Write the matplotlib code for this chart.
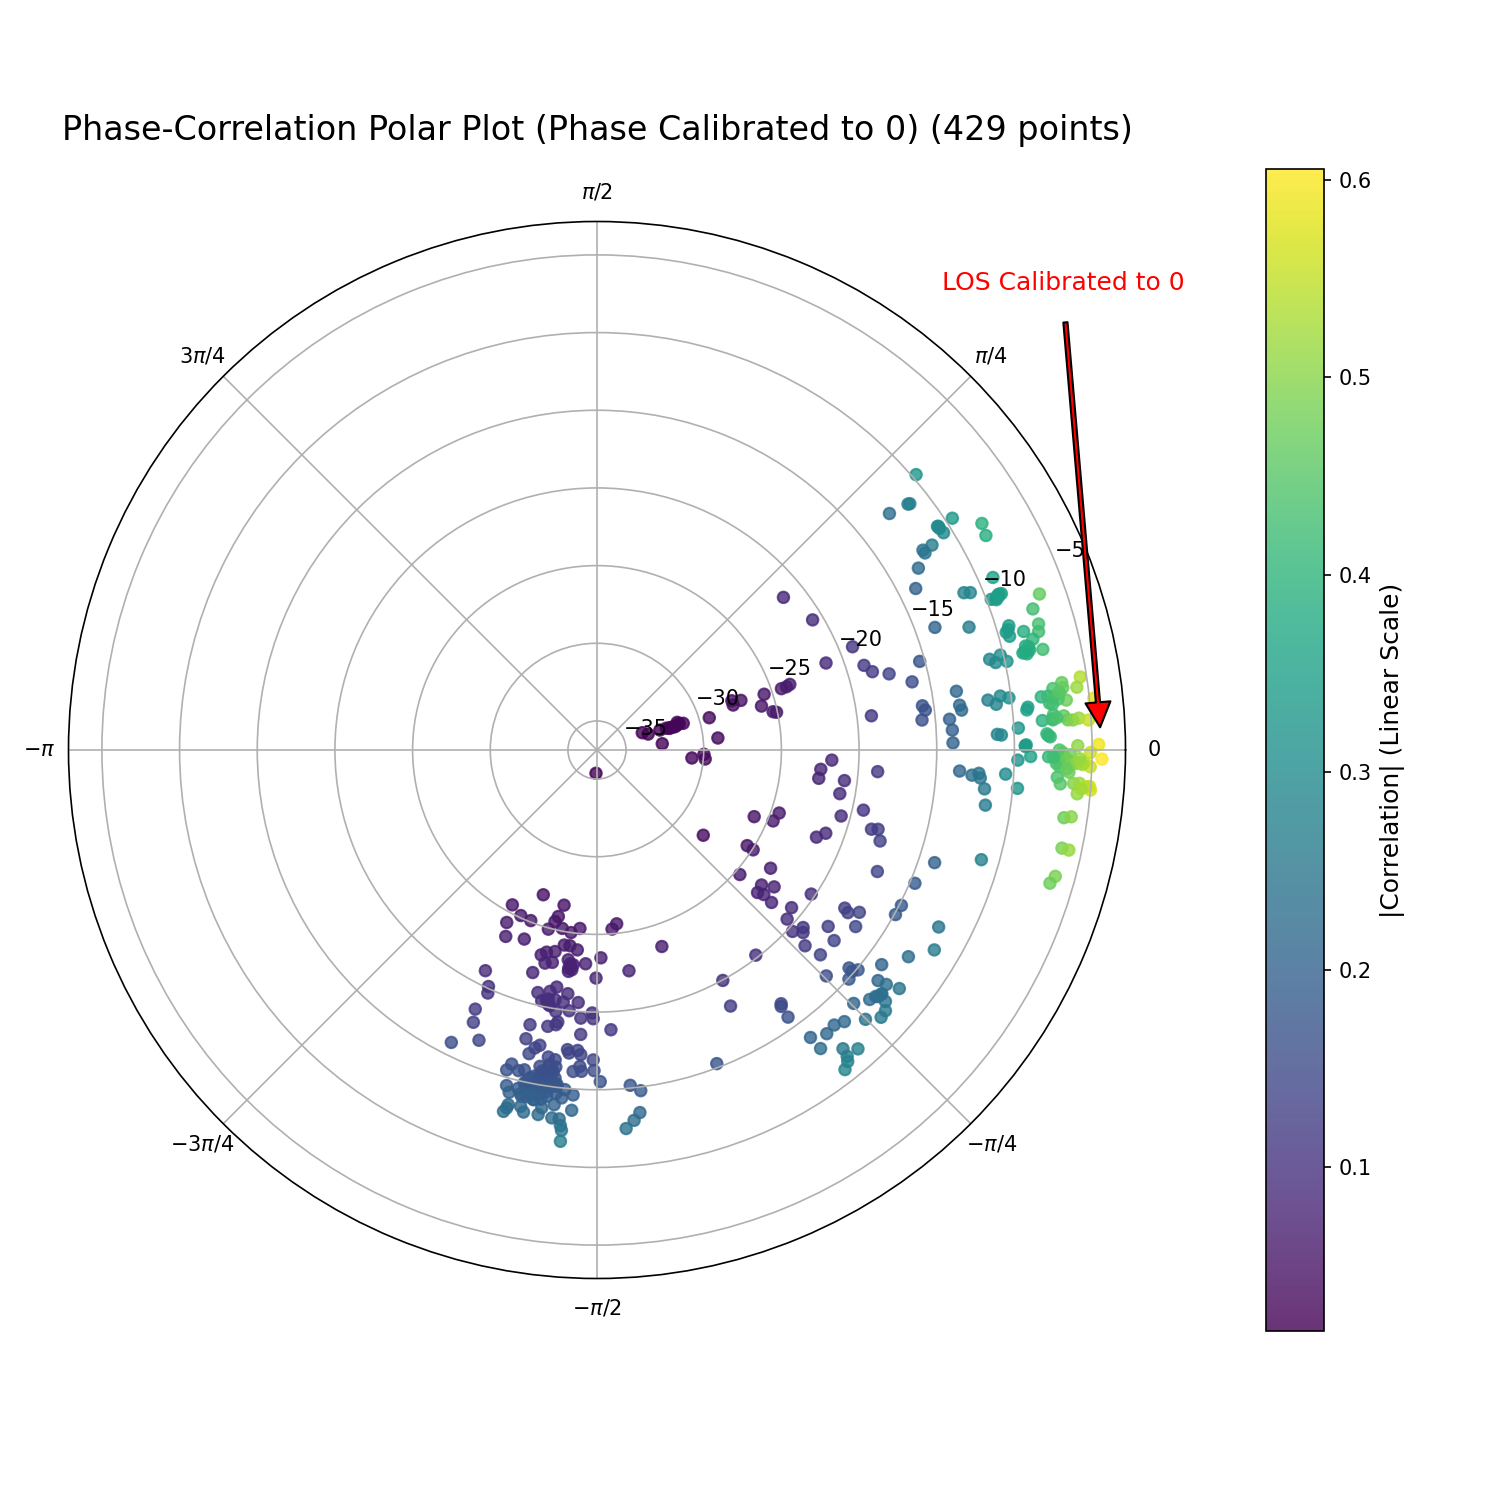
import numpy as np
import matplotlib
matplotlib.use('Agg')
import matplotlib.pyplot as plt

# phase in radians, correlation in dB
phase_bottom = [-1.926, -2.071, -1.780, -2.002, -1.941, -1.799, -1.811, -2.053, -2.026, -1.938,
                -1.836, -1.763, -1.712, -1.666, -1.458, -1.487, -1.252, -1.737, -1.708, -1.669,
                -1.776, -1.815, -1.837, -1.810, -1.778, -1.707, -1.681, -1.685, -1.699, -1.624,
                -1.552, -1.427, -1.852, -2.039, -1.575, -2.001, -1.993, -1.810, -1.739, -1.763,
                -1.690, -1.788, -1.764, -1.737, -1.704, -1.645, -1.753, -1.727, -1.677, -1.589,
                -1.585, -1.631, -2.010, -1.997, -1.810, -1.747, -1.719, -1.714, -1.521, -1.628,
                -2.033, -1.957, -1.812, -1.762, -1.776, -1.791, -1.669, -1.663, -1.635, -1.624,
                -1.728, -1.705, -1.583, -1.836, -1.749, -1.625, -1.846, -1.811, -1.794, -1.727,
                -1.706, -1.645, -1.619, -1.580, -1.744, -1.719, -1.698, -1.772, -1.752, -1.727,
                -1.561, -1.472, -1.443, -1.834, -1.786, -1.767, -1.747, -1.724, -1.690, -1.665,
                -1.822, -1.785, -1.754, -1.735, -1.715, -1.672, -1.640, -1.751, -1.691, -1.816,
                -1.782, -1.641, -1.818, -1.824, -1.771, -1.724, -1.731, -1.453, -1.471, -1.494,
                -1.693, -1.673, -1.668, -1.664, -1.664]
db_bottom = [-26.93, -25.51, -26.66, -25.14, -25.09, -25.87, -25.50, -24.34, -23.51, -23.83,
             -24.92, -25.17, -25.00, -25.33, -25.61, -25.30, -23.55, -24.14, -24.15, -23.94,
             -23.62, -23.46, -23.20, -22.75, -22.90, -23.24, -22.96, -22.63, -22.50, -23.09,
             -23.49, -22.51, -21.96, -20.95, -22.19, -20.12, -19.72, -20.80, -21.39, -21.04,
             -21.07, -20.34, -20.53, -20.57, -20.50, -20.57, -20.13, -19.83, -19.99, -19.94,
             -19.57, -19.58, -18.44, -17.62, -18.67, -18.80, -18.99, -19.18, -18.84, -18.53,
             -15.84, -16.70, -17.73, -17.51, -17.28, -16.84, -17.49, -17.28, -17.49, -17.23,
             -16.86, -16.75, -16.92, -15.92, -16.18, -16.47, -15.47, -15.62, -15.76, -16.04,
             -15.99, -16.12, -16.16, -16.23, -15.65, -15.63, -15.58, -15.33, -15.29, -15.28,
             -15.52, -15.18, -14.76, -14.50, -14.93, -14.79, -14.77, -14.86, -15.06, -14.91,
             -14.12, -14.05, -14.31, -14.38, -14.34, -14.36, -14.61, -14.00, -13.87, -13.34,
             -13.41, -13.62, -13.11, -12.84, -13.09, -13.56, -13.10, -13.37, -12.91, -12.43,
             -13.01, -13.00, -12.58, -12.28, -11.57]

phase_lower = [-0.043, -0.086, -0.127, -0.123, -0.077, -0.178, -0.264, -0.222, -0.281, -0.275,
               -0.311, -0.349, -0.378, -0.333, -0.383, -0.401, -0.676, -0.567, -0.569, -0.409,
               -0.322, -0.397, -0.598, -0.717, -0.687, -0.658, -0.726, -0.714, -0.718, -0.592,
               -0.472, -0.504, -0.568, -0.575, -0.554, -0.681, -0.727, -0.652, -0.599, -0.711,
               -0.725, -0.748, -0.677, -0.755, -0.478, -0.535, -0.586, -0.742, -0.912, -0.646,
               -0.713, -0.700, -0.715, -0.778, -0.738, -0.687, -0.681, -0.668, -1.071, -0.708,
               -0.724, -0.741, -0.717, -0.779, -1.090, -0.943, -0.948, -0.735, -0.755, -0.950,
               -0.787, -0.832, -0.859, -0.890, -0.932, -0.928, -0.882, -0.853, -0.886, -0.893,
               -0.911, -1.206]
db_lower = [-21.74, -22.41, -22.48, -20.82, -18.75, -20.99, -20.59, -19.29, -18.48, -18.07,
            -17.73, -21.20, -21.67, -24.46, -24.65, -25.88, -28.10, -25.41, -24.94, -17.20,
            -13.96, -14.68, -23.35, -24.67, -23.17, -22.46, -23.05, -22.66, -21.95, -20.25,
            -14.87, -14.93, -17.95, -17.62, -17.01, -20.75, -20.49, -18.15, -16.71, -19.36,
            -19.15, -19.70, -17.29, -18.48, -12.10, -11.63, -12.81, -17.36, -20.17, -13.92,
            -15.42, -14.90, -15.13, -16.15, -14.95, -13.47, -12.90, -12.08, -19.97, -12.73,
            -12.92, -13.08, -12.24, -13.65, -18.28, -16.69, -16.55, -11.84, -11.76, -15.73,
            -12.39, -13.22, -13.49, -13.37, -13.82, -12.86, -11.96, -11.33, -11.41, -11.13,
            -10.83, -15.26]

phase_right = [0.411, 0.339, 0.405, 0.399, 0.365, 0.363, 0.369, 0.369, 0.313, 0.319,
               0.278, 0.262, 0.293, 0.280, 0.269, 0.271, 0.249, 0.238, 0.224, 0.227,
               0.222, 0.227, 0.216, 0.231, 0.213, 0.144, 0.134, 0.150, 0.130, 0.133,
               0.122, 0.106, 0.119, 0.119, 0.103, 0.104, 0.162, 0.123, 0.109, 0.127,
               0.133, 0.114, 0.126, 0.099, 0.093, 0.087, 0.056, 0.020, 0.039, 0.037,
               0.052, 0.066, 0.077, 0.066, 0.073, 0.064, 0.063, 0.066, 0.061, 0.036,
               0.029, 0.009, 0.011, 0.012, 0.008, -0.024, -0.015, -0.015, 0.000, -0.014,
               -0.021, -0.029, -0.025, -0.026, -0.026, -0.005, -0.034, -0.018, -0.047, -0.059,
               -0.073, -0.070, -0.069, -0.074, -0.081, -0.091, -0.058, -0.067, -0.061, -0.073,
               -0.100, -0.059, -0.091, -0.141, -0.144, -0.140, -0.208, -0.209, -0.278, -0.269,
               -0.286]
db_right = [-9.07, -6.67, -11.17, -10.79, -9.70, -9.38, -8.96, -9.20, -7.38, -11.65,
            -7.31, -7.44, -9.18, -9.46, -9.32, -8.37, -7.92, -8.48, -8.75, -8.29,
            -7.45, -10.93, -10.60, -10.20, -9.87, -6.64, -7.26, -5.41, -5.72, -6.62,
            -6.87, -6.49, -8.07, -7.64, -7.58, -4.72, -13.43, -13.35, -13.26, -11.50,
            -10.68, -11.00, -10.14, -9.00, -9.08, -14.09, -13.96, -13.95, -11.08, -10.82,
            -9.71, -8.14, -7.40, -7.46, -6.74, -6.50, -6.18, -5.79, -5.17, -7.89,
            -7.68, -5.92, -4.57, -9.24, -9.28, -9.77, -8.95, -7.80, -7.10, -6.98,
            -6.77, -7.29, -6.34, -5.80, -5.47, -5.10, -5.10, -4.36, -6.46, -7.19,
            -6.97, -6.12, -5.74, -5.08, -5.00, -5.83, -13.49, -12.68, -12.24, -12.13,
            -11.80, -10.52, -9.69, -11.62, -6.50, -6.04, -6.28, -5.82, -11.14, -6.27,
            -6.48]

phase_upper = [0.712, 0.680, 0.669, 0.667, 0.578, 0.581, 0.574, 0.560, 0.532, 0.504,
               0.549, 0.550, 0.541, 0.515, 0.469, 0.348, 0.686, 0.543, 0.384, 0.363,
               0.307, 0.277, 0.255, 0.268, 0.213, 0.135, 0.121, 0.092, 0.124, 0.328,
               0.322, 0.321, 0.322, 0.332, 0.319, 0.350, 0.261, 0.207, 0.214, 0.280,
               0.099, 0.300, 0.332, 0.290, 0.297, 0.307, 0.302, 0.365, 0.096, -0.040,
               -0.084, -0.083, -1.614]
db_upper = [-9.74, -12.66, -11.35, -11.24, -9.56, -10.65, -10.61, -10.54, -8.12, -8.28,
            -11.59, -12.26, -12.24, -13.10, -13.87, -13.73, -21.36, -20.66, -19.13, -21.10,
            -18.84, -18.44, -17.44, -15.33, -16.12, -15.73, -15.58, -15.86, -19.07, -23.76,
            -24.01, -24.36, -25.53, -27.07, -27.64, -27.63, -25.91, -25.06, -25.27, -29.35,
            -29.05, -31.06, -31.41, -31.64, -31.96, -32.62, -33.42, -33.75, -32.65, -29.98,
            -30.74, -29.88, -35.37]

# points hidden inside the dense clumps, rough guesses from the overlap
phase_clumps = [0.30, 0.295, 0.31, 0.305, 0.29,
                -1.69, -1.70, -1.695, -1.77, -1.76,
                -1.72, -1.70, -1.71, -1.73, -1.70, -1.69, -1.74, -1.72, -1.71, -1.76,
                -1.74, -1.72, -1.78, -1.76, -1.73, -1.77, -1.75, -1.69, -1.74, -1.76,
                -1.78, -1.80, -1.79,
                -0.01, -0.02, -0.005, -0.03, -0.035, -0.02, -0.01, -0.03, -0.028, -0.03,
                -0.018, -0.015, -0.04, 0.11, 0.115, 0.10, 0.125, 0.068, 0.07, 0.032,
                -0.075, -0.08, 0.23, 0.225, 0.235, 0.22, 0.36, 0.37, 0.365, 0.285, 0.01,
                -0.72, -0.71, 0.58, -1.72]
db_clumps = [-31.5, -31.8, -31.3, -32.2, -32.0,
             -22.8, -22.7, -23.0, -20.4, -20.2,
             -16.4, -16.3, -15.9, -15.5, -15.3, -15.2, -15.0, -15.1, -14.9, -14.6,
             -14.5, -14.6, -14.7, -14.3, -14.1, -14.1, -14.0, -14.6, -15.9, -15.5,
             -15.1, -14.5, -14.2,
             -7.0, -7.2, -6.9, -6.9, -7.1, -6.6, -6.4, -6.3, -6.0, -5.6,
             -5.8, -7.5, -6.6, -7.0, -7.3, -7.4, -6.9, -7.5, -7.2, -7.8,
             -5.3, -5.6, -8.4, -8.6, -8.3, -8.5, -9.4, -9.1, -9.2, -9.3, -9.3,
             -12.8, -12.75, -10.6, -15.7]

theta_ticks = [0, np.pi/4, np.pi/2, 3*np.pi/4, np.pi, 5*np.pi/4, 3*np.pi/2, 7*np.pi/4]
theta_labels = ['0', r'$\pi/4$', r'$\pi/2$', r'$3\pi/4$', r'$-\pi$', r'$-3\pi/4$', r'$-\pi/2$', r'$-\pi/4$']

phase = np.concatenate([phase_bottom, phase_lower, phase_right, phase_upper, phase_clumps])
corr_db = np.concatenate([db_bottom, db_lower, db_right, db_upper, db_clumps])
corr = 10 ** (corr_db / 20)  # dB -> linear magnitude

fig = plt.figure(figsize=(10, 10), dpi=150)
ax = fig.add_axes([68.5/1500, 221.5/1500, 1057/1500, 1057/1500], projection='polar')
sc = ax.scatter(phase, corr_db, c=corr, cmap='viridis', s=30, alpha=0.8)
ax.set_rlim(-36.87, -2.85)
ax.set_xticks(theta_ticks)
ax.set_xticklabels(theta_labels)
ax.set_title('Phase-Correlation Polar Plot (Phase Calibrated to 0) (429 points)', fontsize=16, pad=20)

ax.annotate('LOS Calibrated to 0', xy=(0, corr_db.max()), xytext=(0.941, 0.93),
            textcoords='axes fraction', color='red', fontsize=12, ha='center', va='bottom',
            arrowprops=dict(facecolor='red', edgecolor='black', shrink=0.05, width=2, headwidth=12))

cax = fig.add_axes([1266/1500, 169/1500, 58/1500, 1162/1500])
cbar = fig.colorbar(sc, cax=cax)
cbar.set_label('|Correlation| (Linear Scale)', fontsize=12)

plt.savefig('out.png', dpi=150)
